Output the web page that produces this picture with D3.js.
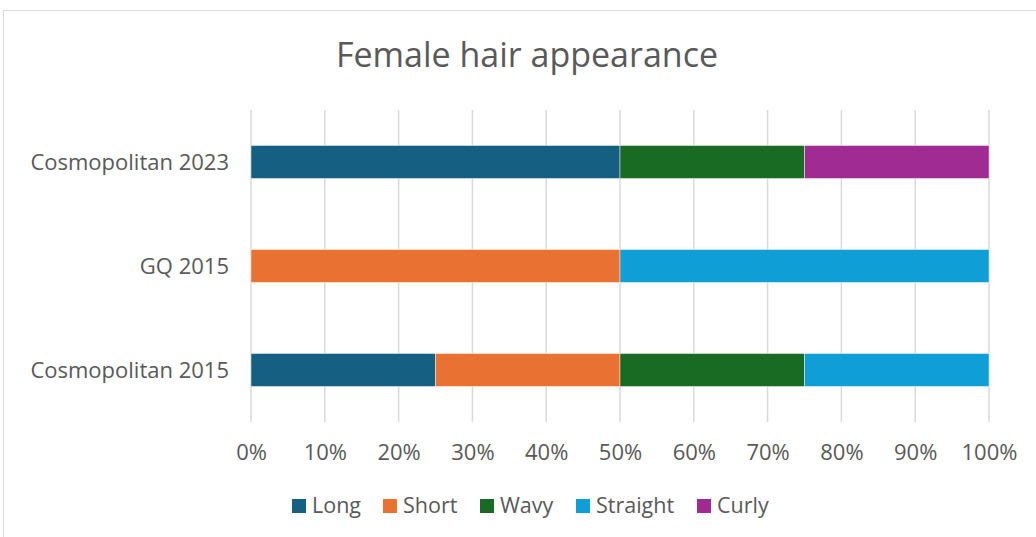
<!DOCTYPE html>
<html>
<head>
<meta charset="utf-8">
<script src="https://cdn.jsdelivr.net/npm/d3@7"></script>
<style>
  body { margin: 0; background: #fff; }
  text { font-family: "Open Sans", sans-serif; fill: #595959; }
</style>
</head>
<body>
<script>
// chart data
const categories = ["Cosmopolitan 2023", "GQ 2015", "Cosmopolitan 2015"];
const seriesNames = ["Long", "Short", "Wavy", "Straight", "Curly"];
const seriesColors = ["#156082", "#E97132", "#196B24", "#0F9ED5", "#A02B93"];
const longVals     = [0.50, 0.00, 0.25];
const shortVals    = [0.00, 0.50, 0.25];
const wavyVals     = [0.25, 0.00, 0.25];
const straightVals = [0.00, 0.50, 0.25];
const curlyVals    = [0.25, 0.00, 0.00];
const xTicks = [0, 0.1, 0.2, 0.3, 0.4, 0.5, 0.6, 0.7, 0.8, 0.9, 1];

const W = 1036, H = 537;
const plot = {left: 251, right: 989, top: 110, bottom: 422};

const svg = d3.select("body").append("svg")
    .attr("width", W)
    .attr("height", H);

// outer chart border
svg.append("rect")
    .attr("x", 3.5).attr("y", 10.5)
    .attr("width", W + 10).attr("height", H + 10)
    .attr("fill", "none")
    .attr("stroke", "#d9d9d9")
    .attr("stroke-width", 1);

// title
svg.append("text")
    .attr("x", 527).attr("y", 67)
    .attr("text-anchor", "middle")
    .style("font-size", "34px")
    .text("Female hair appearance");

// scales
const xScale = d3.scaleLinear().domain([0, 1]).range([plot.left, plot.right]);
const yScale = d3.scaleBand().domain(categories)
    .range([plot.top, plot.bottom])
    .paddingInner(0.683).paddingOuter(0.3415);

// gridlines
svg.append("g")
    .selectAll("line")
    .data(xTicks)
    .enter().append("line")
    .attr("x1", d => xScale(d)).attr("x2", d => xScale(d))
    .attr("y1", plot.top).attr("y2", plot.bottom)
    .attr("stroke", "#d9d9d9")
    .attr("stroke-width", 1.5);

// x axis labels
const xAxis = d3.axisBottom(xScale)
    .tickValues(xTicks)
    .tickFormat(d3.format(".0%"))
    .tickSize(0).tickPadding(0);
const gx = svg.append("g")
    .attr("transform", `translate(0,${plot.bottom + 38})`)
    .call(xAxis);
gx.select(".domain").remove();
gx.selectAll("text")
    .attr("dy", 0)
    .style("font-size", "22px")
    .style("font-family", "'Open Sans', sans-serif")
    .attr("fill", "#595959");

// y axis labels
const yAxis = d3.axisLeft(yScale).tickSize(0).tickPadding(0);
const gy = svg.append("g")
    .attr("transform", `translate(${plot.left - 22},0)`)
    .call(yAxis);
gy.select(".domain").remove();
gy.selectAll("text")
    .attr("dy", "0.35em")
    .style("font-size", "22px")
    .style("font-family", "'Open Sans', sans-serif")
    .attr("fill", "#595959");

// stacked bars
const rows = categories.map((c, i) => ({
    cat: c,
    Long: longVals[i], Short: shortVals[i], Wavy: wavyVals[i],
    Straight: straightVals[i], Curly: curlyVals[i]
}));
const stack = d3.stack().keys(seriesNames)(rows);

svg.append("g")
    .selectAll("g")
    .data(stack)
    .enter().append("g")
    .attr("fill", (d, i) => seriesColors[i])
    .selectAll("rect")
    .data(d => d.filter(p => p[1] - p[0] > 0))
    .enter().append("rect")
    .attr("x", d => xScale(d[0]))
    .attr("y", d => yScale(d.data.cat))
    .attr("width", d => xScale(d[1]) - xScale(d[0]))
    .attr("height", yScale.bandwidth())
    .attr("stroke", "#ffffff")
    .attr("stroke-opacity", 0.6)
    .attr("stroke-width", 0.75);

// legend
const legendX = [292, 383, 480, 576, 697];
const legend = svg.append("g")
    .selectAll("g")
    .data(seriesNames)
    .enter().append("g")
    .attr("transform", (d, i) => `translate(${legendX[i]},499)`);
legend.append("rect")
    .attr("width", 14).attr("height", 14)
    .attr("fill", (d, i) => seriesColors[i]);
legend.append("text")
    .attr("x", 20).attr("y", 14)
    .style("font-size", "21.5px")
    .text(d => d);
</script>
</body>
</html>
